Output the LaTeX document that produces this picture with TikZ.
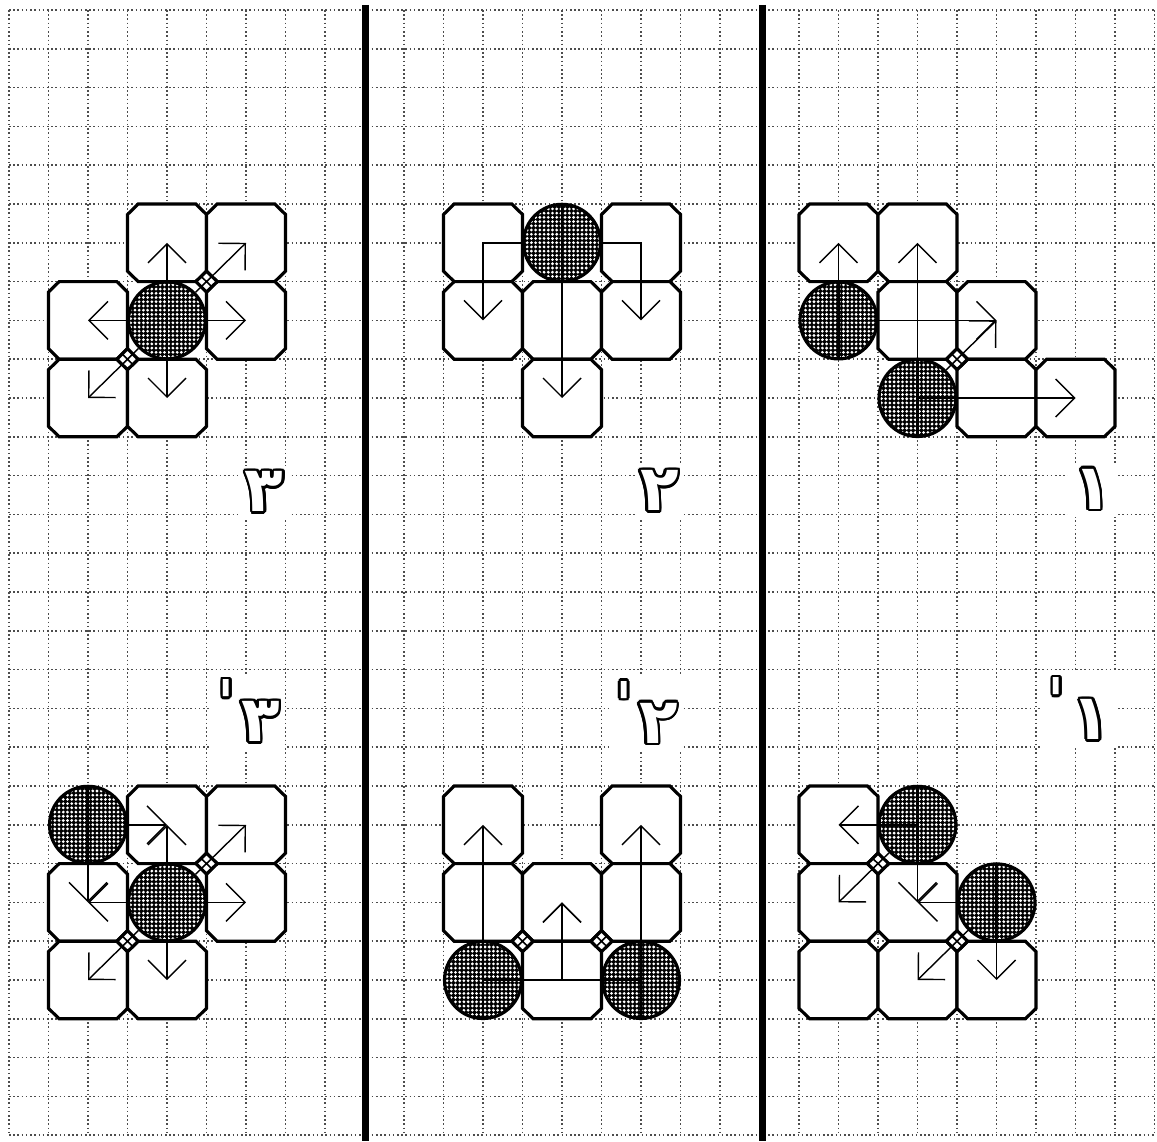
\documentclass[tikz,border=0pt]{standalone}
\usepackage{fontspec}
\newfontfamily\arabicfont[Script=Arabic]{DejaVu Sans}
\TeXXeTstate=1
\usepackage{contour}
\contourlength{0.75pt}
\usetikzlibrary{arrows.meta,patterns}
\pgfdeclarepatternformonly{finedots}{\pgfqpoint{-0.6pt}{-0.6pt}}{\pgfqpoint{0.6pt}{0.6pt}}{\pgfqpoint{1.2pt}{1.2pt}}{\pgfpathcircle{\pgfqpoint{0pt}{0pt}}{0.44pt}\pgfusepath{fill}}
\newcommand\outl[1]{\contour{black}{\textcolor{white}{#1}}}
\newcommand\prm{\kern1.5pt\raisebox{4pt}{ˈ}}
\tikzset{
  octo/.style={draw=black, fill=white, line width=0.9pt, line join=miter},
  disc/.style={circle, draw=black, line width=0.9pt, minimum size=0.77cm, inner sep=0pt,
    preaction={fill=black}, pattern=finedots, pattern color=white,
    path picture={\draw[line width=0.7pt] (path picture bounding box.north) -- (path picture bounding box.south);}},
  gridline/.style={line width=0.45pt, black!70, dash pattern=on 0.45pt off 0.75pt},
  arr/.style={line width=0.4pt, -{Straight Barb[length=0.19cm, width=0.38cm, line width=0.4pt]}},
  divider/.style={line width=2pt},
  lbl/.style={fill=white, inner sep=1.5pt, font=\arabicfont\bfseries\fontsize{18}{18}\selectfont},
  oct/.pic={\path[octo] (-0.73,-1) -- (0.73,-1) -- (1,-0.73) -- (1,0.73) -- (0.73,1) -- (-0.73,1) -- (-1,0.73) -- (-1,-0.73) -- cycle;},
  jnt/.pic={\path[fill=white, draw=black, line width=0.9pt] (-0.27,0) -- (0,-0.27) -- (0.27,0) -- (0,0.27) -- cycle;
            \draw[line width=0.45pt] (-0.135,-0.135) -- (0.135,0.135) (-0.135,0.135) -- (0.135,-0.135);},
}
\begin{document}
\begin{tikzpicture}[x=0.395cm, y={(0cm,-0.388cm)}]
\useasboundingbox (-0.228,-0.258) rectangle (29.063,29.15);
\fill[white] (-0.228,-0.258) rectangle (29.063,29.15);
% grid
\foreach \i in {0,...,29} {
  \draw[gridline] (\i,0) -- (\i,29);
  \draw[gridline] (0,\i) -- (29,\i);
}
% dividers
\draw[divider] (9.02,-0.13) -- (9.02,29.15);
\draw[divider] (19.08,-0.13) -- (19.08,29.15);

% ---------- panel 1 top ----------
\path (4,6) coordinate (a1) pic {oct};
\path (6,6) coordinate (a2) pic {oct};
\path (2,8) coordinate (a3) pic {oct};
\path (6,8) coordinate (a4) pic {oct};
\path (2,10) coordinate (a5) pic {oct};
\path (4,10) coordinate (a6) pic {oct};
\node[disc] (c1) at (4,8) {};
\draw[arr] (c1) -- (a1);
\draw[arr] (c1) -- (a3);
\draw[arr] (c1) -- (a4);
\draw[arr] (c1) -- (a6);
\draw[arr] (c1) -- (a2);
\draw[arr] (c1) -- (a5);
\path (5,7) pic {jnt};
\path (3,9) pic {jnt};

% ---------- panel 2 top ----------
\path (12,6) coordinate (b1) pic {oct};
\path (16,6) coordinate (b2) pic {oct};
\path (12,8) coordinate (b3) pic {oct};
\path (14,8) coordinate (b4) pic {oct};
\path (16,8) coordinate (b5) pic {oct};
\path (14,10) coordinate (b6) pic {oct};
\node[disc] (c2) at (14,6) {};
\draw[arr] (c2.west) -| (b3);
\draw[arr] (c2.east) -| (b5);
\draw[arr] (c2.south) -- (b6);

% ---------- panel 3 top ----------
\path (21,6) coordinate (d1) pic {oct};
\path (23,6) coordinate (d2) pic {oct};
\path (23,8) coordinate (d3) pic {oct};
\path (25,8) coordinate (d4) pic {oct};
\path (25,10) coordinate (d5) pic {oct};
\path (27,10) coordinate (d6) pic {oct};
\node[disc] (c3) at (21,8) {};
\node[disc] (c4) at (23,10) {};
\draw[arr] (c3) -- (d1);
\draw[arr] (c3.center) -- (d4);
\draw[arr] (c4) -- (d2);
\draw[arr] (c4.center) -- (d6);
\draw[arr] (c4) -- (d4);
\path (24,9) pic {jnt};

% ---------- panel 1 bottom ----------
\path (4,21) coordinate (f1) pic {oct};
\path (6,21) coordinate (f2) pic {oct};
\path (2,23) coordinate (f3) pic {oct};
\path (6,23) coordinate (f4) pic {oct};
\path (2,25) coordinate (f5) pic {oct};
\path (4,25) coordinate (f6) pic {oct};
\node[disc] (e1) at (2,21) {};
\node[disc] (e2) at (4,23) {};
\draw[arr] (e1) -- (f1);
\draw[arr] (e1) -- (f3);
\draw[arr] (e2) -- (f1);
\draw[arr] (e2) -- (f3);
\draw[arr] (e2) -- (f4);
\draw[arr] (e2) -- (f6);
\draw[arr] (e2) -- (f2);
\draw[arr] (e2) -- (f5);
\path (5,22) pic {jnt};
\path (3,24) pic {jnt};

% ---------- panel 2 bottom ----------
\path (12,21) coordinate (h1) pic {oct};
\path (16,21) coordinate (h2) pic {oct};
\path (12,23) coordinate (h3) pic {oct};
\path (14,23) coordinate (h4) pic {oct};
\path (16,23) coordinate (h5) pic {oct};
\path (14,25) coordinate (h6) pic {oct};
\node[disc] (g1) at (12,25) {};
\node[disc] (g2) at (16,25) {};
\draw[arr] (g1) -- (h1);
\draw[arr] (g2) -- (h2);
\draw[arr] (g1.center) -| (h4);
\draw[arr] (g2.center) -| (h4);
\path (13,24) pic {jnt};
\path (15,24) pic {jnt};

% ---------- panel 3 bottom ----------
\path (21,21) coordinate (m1) pic {oct};
\path (21,23) coordinate (m2) pic {oct};
\path (23,23) coordinate (m3) pic {oct};
\path (21,25) coordinate (m4) pic {oct};
\path (23,25) coordinate (m5) pic {oct};
\path (25,25) coordinate (m6) pic {oct};
\node[disc] (k1) at (23,21) {};
\node[disc] (k2) at (25,23) {};
\draw[arr] (k1.center) -- (m1);
\draw[arr] (k1) -- (m3);
\draw[arr] (k1) -- (m2);
\draw[arr] (k2.center) -- (m3);
\draw[arr] (k2) -- (m6);
\draw[arr] (k2) -- (m5);
\path (22,22) pic {jnt};
\path (24,24) pic {jnt};

% ---------- labels ----------
\node[lbl] (t1) at (6.46,12.45) {\outl{\beginR ٣\endR}};
\node[lbl] (t2) at (16.47,12.42) {\outl{\beginR ٢\endR}};
\node[lbl] (t3) at (27.43,12.38) {\outl{\beginR ١\endR}};
\node[lbl, anchor=south east] (u1) at (7.01,19.08) {\outl{\beginR ٣\prm\endR}};
\node[lbl, anchor=south east] (u2) at (17.08,19.12) {\outl{\beginR ٢\prm\endR}};
\node[lbl, anchor=south east] (u3) at (28.03,19.03) {\outl{\beginR ١\prm\endR}};
\end{tikzpicture}
\end{document}
